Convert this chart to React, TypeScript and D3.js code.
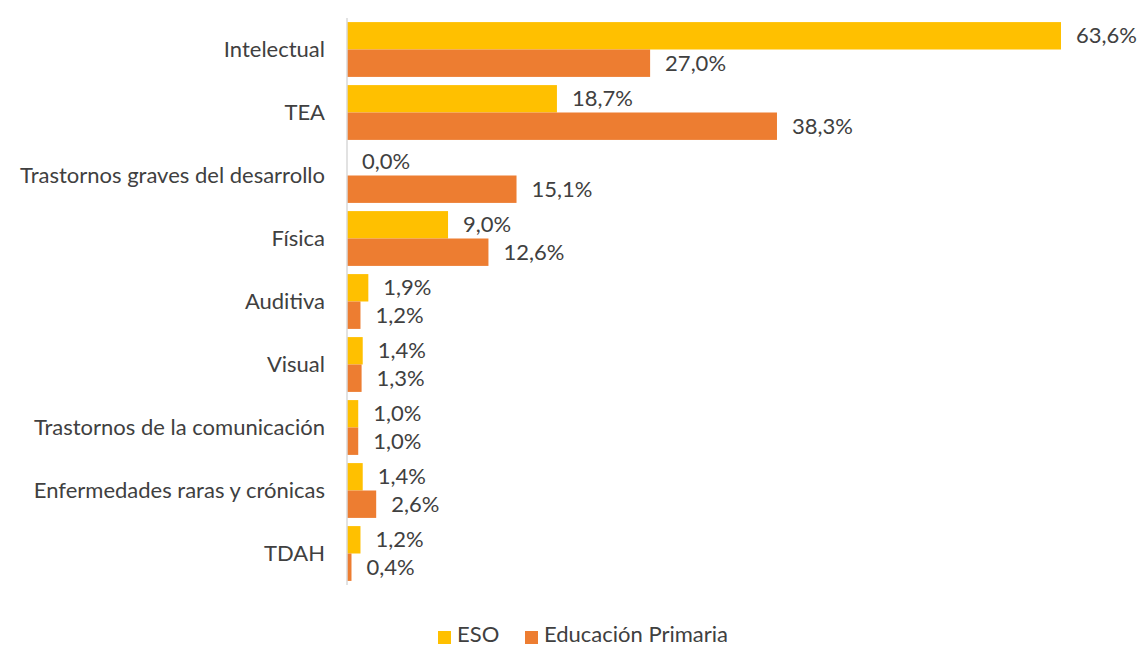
import React from "react";
import * as d3 from "d3";

const categories = [
  "Intelectual",
  "TEA",
  "Trastornos graves del desarrollo",
  "Física",
  "Auditiva",
  "Visual",
  "Trastornos de la comunicación",
  "Enfermedades raras y crónicas",
  "TDAH",
];
const esoValues = [63.6, 18.7, 0.0, 9.0, 1.9, 1.4, 1.0, 1.4, 1.2];
const primariaValues = [27.0, 38.3, 15.1, 12.6, 1.2, 1.3, 1.0, 2.6, 0.4];
const seriesNames = ["ESO", "Educación Primaria"];
const colors = ["#FFC000", "#ED7D31"];

const W = 1140;
const H = 646;
const font = "Lato, 'Open Sans', sans-serif";
const fs = 22;

const App = () => {
  const x0 = 347;
  const xScale = d3.scaleLinear().domain([0, 63.6]).range([x0, 1061]);
  const yScale = d3
    .scaleBand<string>()
    .domain(categories)
    .range([18, 585])
    .paddingInner(0.13)
    .paddingOuter(0.065);
  const inner = d3
    .scaleBand<number>()
    .domain([0, 1])
    .range([0, yScale.bandwidth()]);

  const fmt = (v: number) => v.toFixed(1).replace(".", ",") + "%";
  const series = [esoValues, primariaValues];

  return (
    <svg
      width={W}
      height={H}
      style={{ position: "absolute", left: 0, top: 0, background: "#fff" }}
      fontFamily={font}
    >
      {series.map((vals, si) =>
        vals.map((v, i) => {
          const y = (yScale(categories[i]) as number) + (inner(si) as number);
          const h = inner.bandwidth();
          return (
            <g key={`${si}-${i}`}>
              <rect
                x={x0}
                y={y}
                width={xScale(v) - x0}
                height={h}
                fill={colors[si]}
              />
              <text
                x={xScale(v) + 15}
                y={y + h / 2}
                dy="0.35em"
                fontSize={fs}
                fill="#404040"
              >
                {fmt(v)}
              </text>
            </g>
          );
        })
      )}
      <line x1={x0} x2={x0} y1={18} y2={585} stroke="#D9D9D9" strokeWidth={1.5} />
      {categories.map((c) => (
        <text
          key={c}
          x={325}
          y={(yScale(c) as number) + yScale.bandwidth() / 2}
          dy="0.35em"
          textAnchor="end"
          fontSize={fs}
          fill="#404040"
        >
          {c}
        </text>
      ))}
      <g>
        <rect x={438} y={631} width={13} height={13} fill={colors[0]} />
        <text x={457} y={634} dy="0.35em" fontSize={fs} fill="#404040">
          {seriesNames[0]}
        </text>
        <rect x={525} y={631} width={13} height={13} fill={colors[1]} />
        <text x={544} y={634} dy="0.35em" fontSize={fs} fill="#404040">
          {seriesNames[1]}
        </text>
      </g>
    </svg>
  );
};

export default App;
